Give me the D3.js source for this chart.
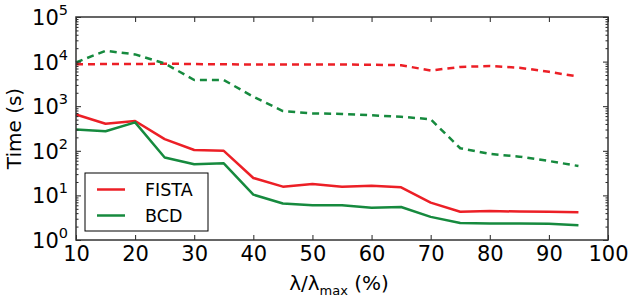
<!DOCTYPE html>
<html>
<head>
<meta charset="utf-8">
<script src="https://cdn.jsdelivr.net/npm/d3@7"></script>
<style>
  body { margin: 0; background: #fff; }
  svg { display: block; font-family: "DejaVu Sans", sans-serif; }
</style>
</head>
<body>
<svg id="chart" width="630" height="298"></svg>
<script>
// lambda / lambda_max in percent
var lambdas = [10, 15, 20, 25, 30, 35, 40, 45, 50, 55, 60, 65, 70, 75, 80, 85, 90, 95];

// time in seconds, solid lines
var fistaTime = [650, 405, 465, 183, 104, 100, 24.6, 15.7, 18, 15.7, 16.5, 15.2, 6.9, 4.3, 4.45, 4.35, 4.3, 4.2];
var bcdTime = [302, 274, 435, 71, 50, 52.4, 10.4, 6.6, 6.0, 6.0, 5.3, 5.5, 3.3, 2.4, 2.35, 2.35, 2.3, 2.15];

// time in seconds, dashed lines
var fistaTimeDashed = [8700, 8800, 8800, 9000, 8800, 8700, 8600, 8600, 8600, 8600, 8500, 8300, 6300, 7600, 7950, 7300, 5900, 4600];
var bcdTimeDashed = [9600, 17500, 14500, 9100, 3870, 3870, 1630, 780, 690, 670, 625, 580, 510, 114, 85, 74, 59, 45.6];

var yTickExponents = [0, 1, 2, 3, 4, 5];
var xTicks = [10, 20, 30, 40, 50, 60, 70, 80, 90, 100];

var legendNames = ["FISTA", "BCD"];

var red = "#ec1f26";
var green = "#168a3e";

var margin = {top: 17, right: 22, bottom: 58, left: 76};
var width = 630 - margin.left - margin.right;
var height = 298 - margin.top - margin.bottom;

var svg = d3.select("#chart");
var g = svg.append("g").attr("transform", "translate(" + margin.left + "," + margin.top + ")");

var x = d3.scaleLinear().domain([10, 100]).range([0, width]);
var y = d3.scaleLog().domain([1, 1e5]).range([height, 0]);

// minor ticks for log axis
var minorTicks = [];
for (var e = 0; e < 5; e++) {
    for (var m = 2; m <= 9; m++) {
        minorTicks.push(m * Math.pow(10, e));
    }
}
var majorY = yTickExponents.map(function(p) { return Math.pow(10, p); });

var line = d3.line()
    .x(function(d) { return x(d[0]); })
    .y(function(d) { return y(d[1]); });

function drawSeries(values, color, dashed) {
    g.append("path")
        .datum(lambdas.map(function(l, i) { return [l, values[i]]; }))
        .attr("d", line)
        .attr("fill", "none")
        .attr("stroke", color)
        .attr("stroke-width", 2.5)
        .attr("stroke-linejoin", "round")
        .attr("stroke-dasharray", dashed ? "7,5" : null);
}

drawSeries(fistaTimeDashed, red, true);
drawSeries(bcdTimeDashed, green, true);
drawSeries(fistaTime, red, false);
drawSeries(bcdTime, green, false);

// axes, ticks pointing inward
var tickColor = "#222";
function styleAxis(sel) {
    sel.select(".domain").remove();
    sel.selectAll(".tick line").attr("stroke", tickColor).attr("stroke-width", 1);
}

g.append("g").attr("transform", "translate(0," + height + ")")
    .call(d3.axisBottom(x).tickValues(xTicks).tickSize(-5).tickPadding(6).tickFormat(d3.format("d")))
    .call(styleAxis)
    .selectAll("text")
    .attr("font-size", 21)
    .attr("fill", "#000")
    .attr("font-family", "DejaVu Sans, sans-serif");

g.append("g")
    .call(d3.axisTop(x).tickValues(xTicks).tickSize(-5).tickFormat(""))
    .call(styleAxis);

g.append("g")
    .call(d3.axisLeft(y).tickValues(majorY).tickSize(-5).tickFormat(""))
    .call(styleAxis);
g.append("g")
    .call(d3.axisLeft(y).tickValues(minorTicks).tickSize(-2.5).tickFormat(""))
    .call(styleAxis);
g.append("g").attr("transform", "translate(" + width + ",0)")
    .call(d3.axisRight(y).tickValues(majorY).tickSize(-5).tickFormat(""))
    .call(styleAxis);
g.append("g").attr("transform", "translate(" + width + ",0)")
    .call(d3.axisRight(y).tickValues(minorTicks).tickSize(-2.5).tickFormat(""))
    .call(styleAxis);

// y tick labels 10^n
yTickExponents.forEach(function(p) {
    var t = g.append("text")
        .attr("x", -8)
        .attr("y", y(Math.pow(10, p)) + 8)
        .attr("text-anchor", "end")
        .attr("font-size", 21)
        .attr("fill", "#000");
    t.append("tspan").text("10");
    t.append("tspan").attr("font-size", 14.5).attr("dy", -10).text(p);
});

// frame
g.append("rect")
    .attr("width", width)
    .attr("height", height)
    .attr("fill", "none")
    .attr("stroke", "#333")
    .attr("stroke-width", 1.5);

// axis titles
svg.append("text")
    .attr("transform", "translate(21," + (margin.top + height / 2) + ") rotate(-90)")
    .attr("text-anchor", "middle")
    .attr("font-size", 20)
    .attr("fill", "#000")
    .text("Time (s)");

var xl = svg.append("text")
    .attr("x", 339)
    .attr("y", 290)
    .attr("text-anchor", "middle")
    .attr("font-size", 20)
    .attr("fill", "#000");
xl.append("tspan").text("λ/λ");
xl.append("tspan").attr("font-size", 13).attr("dy", 5).text("max");
xl.append("tspan").attr("dy", -5).text(" (%)");

// legend
var legend = g.append("g").attr("transform", "translate(9,156)");
legend.append("rect")
    .attr("width", 123)
    .attr("height", 58)
    .attr("fill", "#fff")
    .attr("stroke", "#000")
    .attr("stroke-width", 1);
[red, green].forEach(function(c, i) {
    var yy = 16.5 + i * 26;
    legend.append("line")
        .attr("x1", 12).attr("x2", 40)
        .attr("y1", yy).attr("y2", yy)
        .attr("stroke", c).attr("stroke-width", 2.5);
    legend.append("text")
        .attr("x", 60).attr("y", yy + 6.5)
        .attr("font-size", 17.5)
        .attr("fill", "#000")
        .text(legendNames[i]);
});
</script>
</body>
</html>
